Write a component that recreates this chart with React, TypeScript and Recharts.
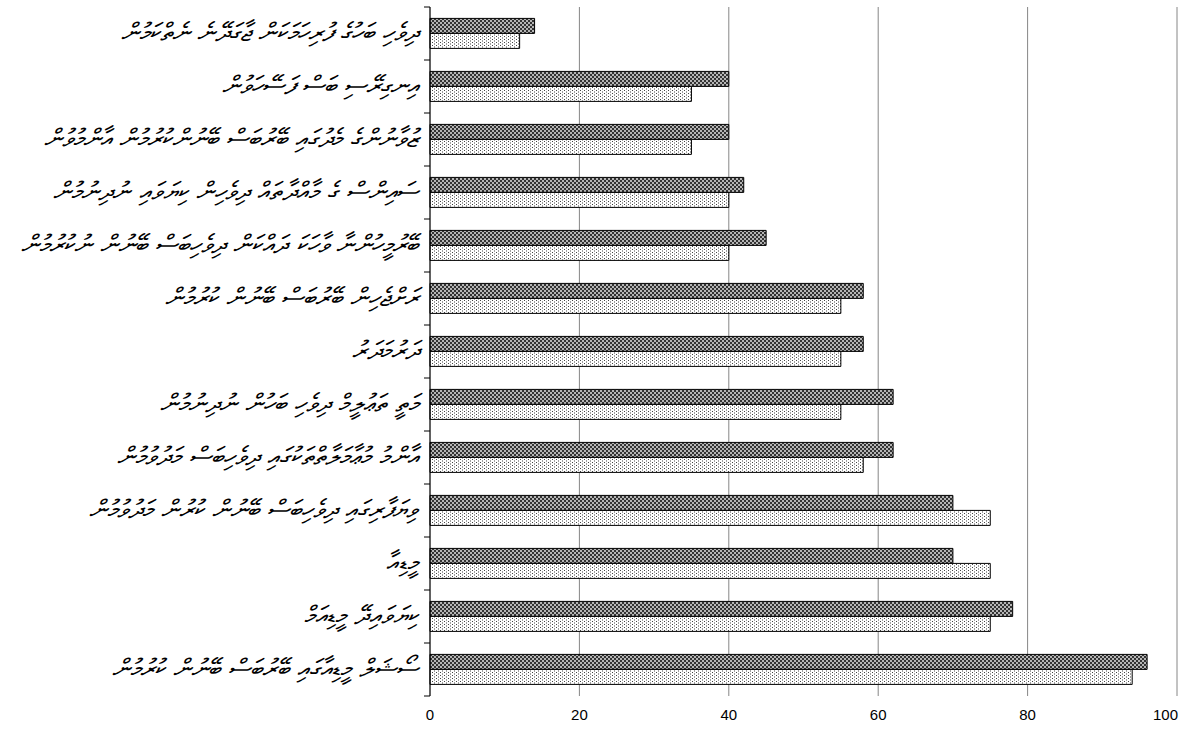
import React from "react";
import { BarChart, Bar, XAxis, YAxis, CartesianGrid } from "recharts";

// ─── data, top to bottom ─────────────────────────────────────────────
const categories = [
  "ދިވެހި ބަހުގެ ފުރިހަމަކަން ޖާގަދޭނެ ނެތްކަމުން",
  "އިނގިރޭސި ބަސް ފަސޭހަވުން",
  "ޒުވާނުންގެ މެދުގައި ބޭރުބަސް ބޭނުންކުރުމުން އާންމުވުން",
  "ސައިންސް ގެ މާއްދާތައް ދިވެހިން ކިޔަވައި ނުދިނުމުން",
  "ބޭރުމީހުންނާ ވާހަކަ ދައްކަން ދިވެހިބަސް ބޭނުން ނުކުރުމުން",
  "ރަށްޖެހިން ބޭރުބަސް ބޭނުން ކުރުމުން",
  "ދަރުމަދަރު",
  "މަތީ ތަޢުލީމް ދިވެހި ބަހުން ނުދިނުމުން",
  "އާންމު މުޢާމަލާތްތަކުގައި ދިވެހިބަސް މަދުވުމުން",
  "ވިޔަފާރިގައި ދިވެހިބަސް ބޭނުން ކުރުން މަދުވުމުން",
  "މީޑިއާ",
  "ކިޔަވައިދޭ މީޑިއަމް",
  "ސޯޝަލް މީޑިއާގައި ބޭރުބަސް ބޭނުން ކުރުމުން",
];
const seriesA = [14, 40, 40, 42, 45, 58, 58, 62, 62, 70, 70, 78, 96];
const seriesB = [12, 35, 35, 40, 40, 55, 55, 55, 58, 75, 75, 75, 94];
const xTicks = [0, 20, 40, 60, 80, 100];

const data = categories.map((name, i) => ({ name, a: seriesA[i], b: seriesB[i] }));

const W = 1201;
const H = 738;
const M = { top: 7, right: 24, bottom: 12, left: 0 };
const Y_W = 430;
const X_H = 30;
const band = (H - M.top - M.bottom - X_H) / categories.length;

// category label + excel-style tick marks between categories
function CatTick(props: any) {
  const { x, y, payload, index } = props;
  return (
    <g>
      <text
        x={x - 12}
        y={y}
        dy={7}
        textAnchor="end"
        fontSize={25.5}
        fontStyle="italic"
        fontFamily="'DejaVu Sans', 'Noto Sans', sans-serif"
        fill="#000"
      >
        {payload.value}
      </text>
      <line x1={x - 6} x2={x} y1={y - band / 2} y2={y - band / 2} stroke="#000" />
      {index === categories.length - 1 && (
        <line x1={x - 6} x2={x} y1={y + band / 2} y2={y + band / 2} stroke="#000" />
      )}
    </g>
  );
}

// value labels; the last one is pulled inside the chart like excel does
function ValTick(props: any) {
  const { x, y, payload, index } = props;
  const last = index === xTicks.length - 1;
  return (
    <text
      x={last ? x + 1 : x}
      y={y}
      dy={12}
      textAnchor={last ? "end" : "middle"}
      fontSize={15}
      fontFamily="'Liberation Sans', Arial, sans-serif"
      fill="#000"
    >
      {payload.value}
    </text>
  );
}

export default function App() {
  return (
    <div style={{ position: "absolute", left: 0, top: 0, background: "#fff" }}>
      <BarChart
        width={W}
        height={H}
        data={data}
        layout="vertical"
        margin={M}
        barGap={0}
        barCategoryGap="21.5%"
      >
        <defs>
          <pattern id="hatchDark" width="4" height="4" patternUnits="userSpaceOnUse">
            <rect width="4" height="4" fill="#b5b5b5" />
            <rect x="0" y="0" width="2" height="2" fill="#333" />
            <rect x="2" y="2" width="2" height="2" fill="#333" />
          </pattern>
          <pattern id="dotsLight" width="4" height="3" patternUnits="userSpaceOnUse">
            <rect width="4" height="3" fill="#fff" />
            <rect x="0" y="0" width="1" height="1" fill="#444" />
            <rect x="2" y="1.5" width="1" height="1" fill="#444" />
          </pattern>
        </defs>
        <CartesianGrid horizontal={false} stroke="#868686" />
        <XAxis
          type="number"
          domain={[0, 100]}
          ticks={xTicks}
          height={X_H}
          axisLine={false}
          tickLine={false}
          tickSize={0}
          tickMargin={12}
          interval={0}
          tick={<ValTick />}
        />
        <YAxis
          type="category"
          dataKey="name"
          width={Y_W}
          axisLine={{ stroke: "#000" }}
          tickLine={false}
          tickSize={0}
          tickMargin={0}
          interval={0}
          tick={<CatTick />}
        />
        <Bar dataKey="a" fill="url(#hatchDark)" stroke="#000" strokeWidth={1} isAnimationActive={false} />
        <Bar dataKey="b" fill="url(#dotsLight)" stroke="#000" strokeWidth={1} isAnimationActive={false} />
      </BarChart>
    </div>
  );
}
